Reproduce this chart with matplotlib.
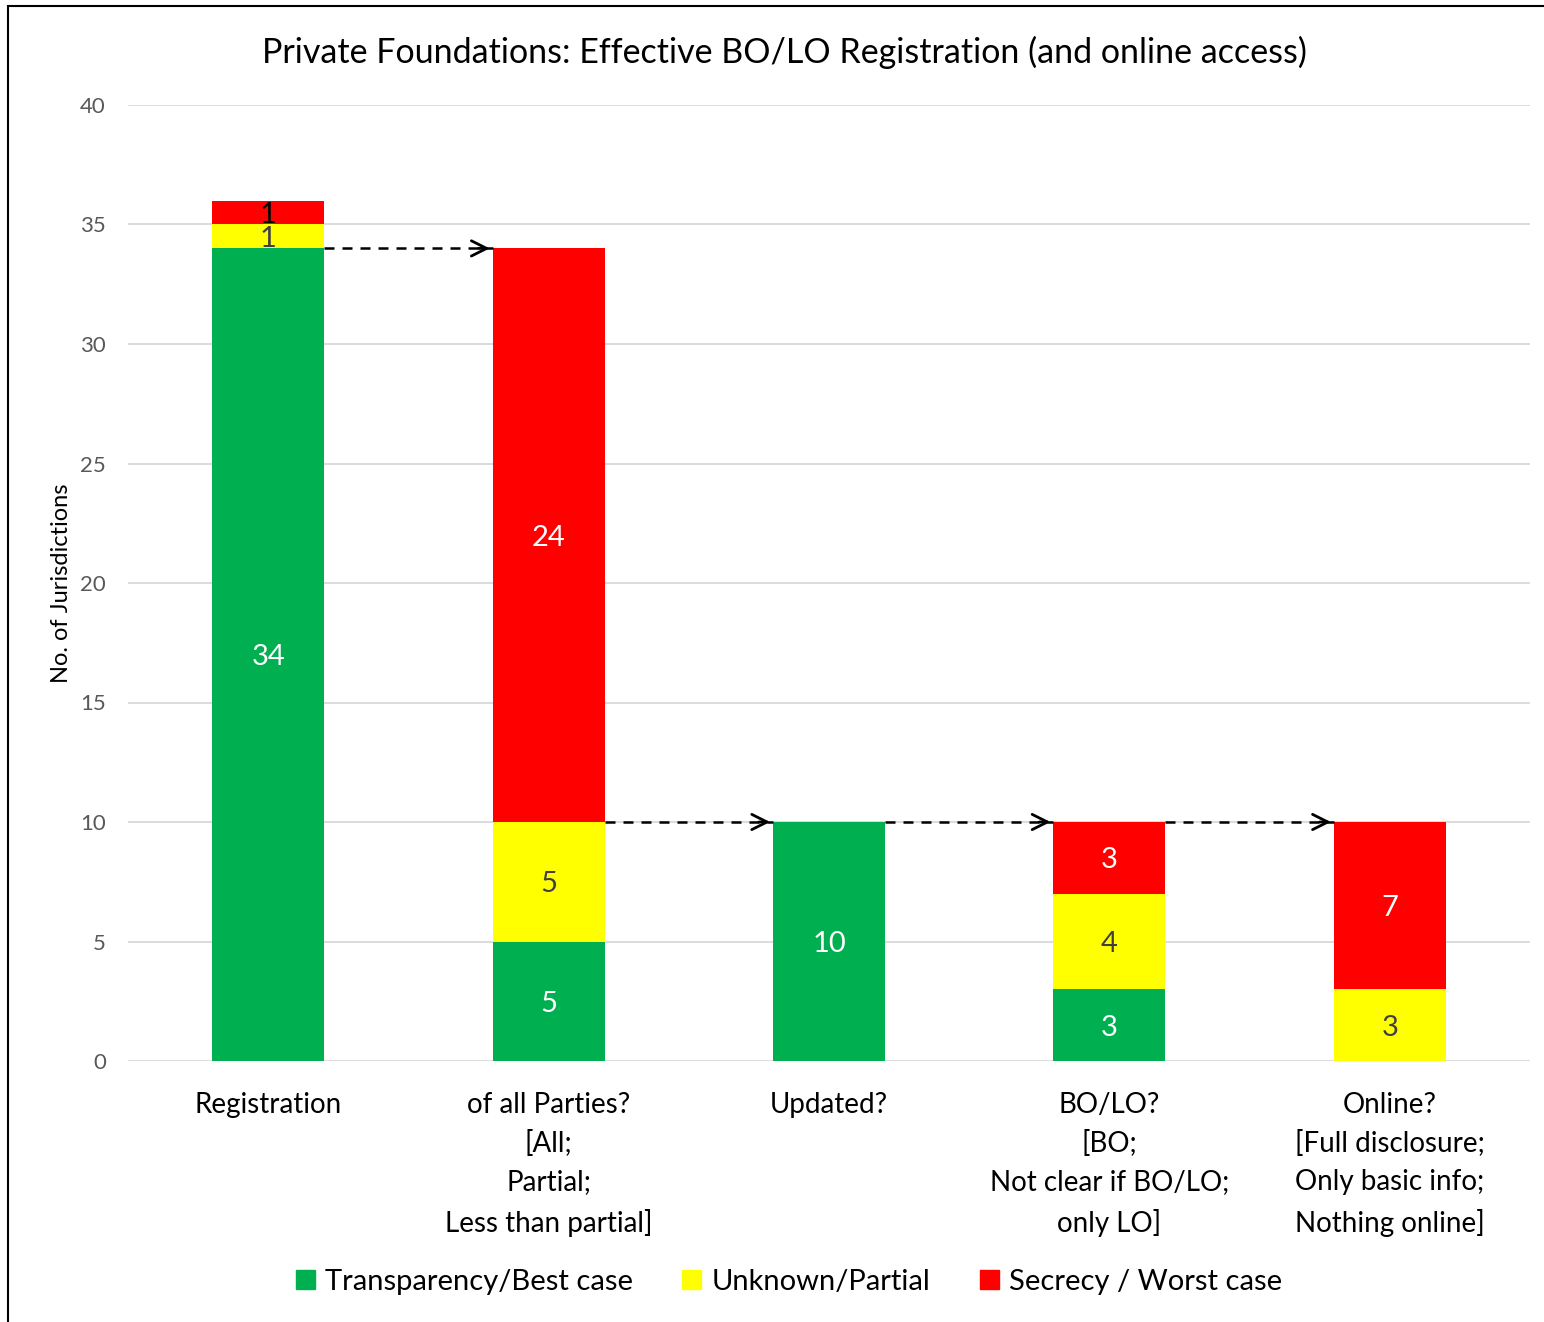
import matplotlib
matplotlib.use("Agg")
import matplotlib.pyplot as plt
from matplotlib.patches import Rectangle, Patch
import numpy as np

plt.rcParams['font.family'] = ['Lato', 'DejaVu Sans']

categories = ["Registration",
              "of all Parties?\n[All;\nPartial;\nLess than partial]",
              "Updated?",
              "BO/LO?\n[BO;\nNot clear if BO/LO;\nonly LO]",
              "Online?\n[Full disclosure;\nOnly basic info;\nNothing online]"]
green_vals = [34, 5, 10, 3, 0]
yellow_vals = [1, 5, 0, 4, 3]
red_vals = [1, 24, 0, 3, 7]
series_names = ["Transparency/Best case", "Unknown/Partial", "Secrecy / Worst case"]
yticks = [0, 5, 10, 15, 20, 25, 30, 35, 40]

GREEN = "#00B050"
YELLOW = "#FFFF00"
RED = "#FF0000"

fig = plt.figure(figsize=(15.44, 13.22), dpi=100)
ax = fig.add_axes([128/1544, 1-1061/1322, (1530-128)/1544, (1061-105)/1322])

x = np.arange(len(categories))
w = 0.40
g = np.array(green_vals); yv = np.array(yellow_vals); r = np.array(red_vals)
ax.bar(x, g, w, color=GREEN, zorder=2)
ax.bar(x, yv, w, bottom=g, color=YELLOW, zorder=2)
ax.bar(x, r, w, bottom=g+yv, color=RED, zorder=2)

# data labels
fs_lab = 21
for i in range(len(x)):
    if g[i] > 0:
        ax.text(x[i], g[i]/2, str(g[i]), ha='center', va='center_baseline', color='white', fontsize=fs_lab, zorder=3)
    if yv[i] > 0:
        ax.text(x[i], g[i]+yv[i]/2, str(yv[i]), ha='center', va='center_baseline', color='#404040', fontsize=fs_lab, zorder=3)
    if r[i] > 0:
        col = 'black' if i == 0 else 'white'
        ax.text(x[i], g[i]+yv[i]+r[i]/2, str(r[i]), ha='center', va='center_baseline', color=col, fontsize=fs_lab, zorder=3)

# dashed arrows between bars
arrow_levels = [g[0], g[1]+yv[1], g[2], g[3]+yv[3]+r[3]]
for i, lvl in enumerate(arrow_levels):
    x0 = x[i] + w/2
    x1 = x[i+1] - w/2
    ax.plot([x0, x1], [lvl, lvl], color='black', lw=1.8, ls=(0, (4, 3.2)), zorder=4,
            dash_capstyle='butt')
    ax.annotate("", xy=(x1, lvl), xytext=(x1 - 0.06, lvl),
                arrowprops=dict(arrowstyle='->,head_length=1.1,head_width=0.55', color='black', lw=2),
                zorder=4)

ax.set_xlim(-0.5, 4.5)
ax.set_ylim(0, 40)
ax.set_yticks(yticks)
ax.set_yticklabels([str(t) for t in yticks], fontsize=16, color='#595959')
ax.yaxis.grid(True, color='#D9D9D9', lw=1.3, zorder=0)
ax.set_axisbelow(True)
ax.tick_params(axis='y', length=0, pad=16)
ax.tick_params(axis='x', length=0, pad=22)
ax.set_xticks(x)
ax.set_xticklabels(categories, fontsize=20, color='black', linespacing=1.58)
for s in ax.spines.values():
    s.set_visible(False)

ax.set_ylabel("No. of Jurisdictions", fontsize=17, color='black', labelpad=6)

fig.text(784/1544, 1-52/1322, "Private Foundations: Effective BO/LO Registration (and online access)",
         ha='center', va='center', fontsize=24.5, color='black')

handles = [Patch(color=GREEN), Patch(color=YELLOW), Patch(color=RED)]
fig.legend(handles, series_names, loc='center', bbox_to_anchor=(789/1544, 1-1282/1322), ncol=3,
           frameon=False, fontsize=21, handlelength=0.65, handleheight=0.65, handletextpad=0.35,
           columnspacing=1.7)

# figure border (left and top visible)
fig.patches.append(Rectangle((8/1544, -0.1), 1.2, 1 - 6/1322 + 0.1, transform=fig.transFigure,
                             fill=False, edgecolor='black', lw=1.5))

fig.savefig("out.png", dpi=100)
